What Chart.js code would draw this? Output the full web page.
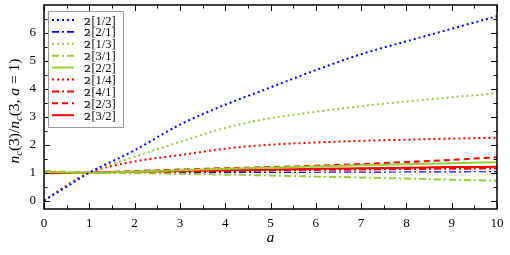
<!DOCTYPE html>
<html>
<head>
<meta charset="utf-8">
<script src="https://cdn.jsdelivr.net/npm/chart.js@4.4.1/dist/chart.umd.min.js"></script>
<style>
  html, body { margin: 0; padding: 0; background: #fff; }
  canvas { display: block; }
</style>
</head>
<body>
<canvas id="chart" width="510" height="255"></canvas>
<script>
// values (normalised so every curve is 1 at a = 1)
const aValues = [0, 0.5, 1, 2, 3, 4, 5, 6, 7, 8, 9, 10];

const pade12 = [0, 0.5, 1, 1.8, 2.72, 3.43, 4.05, 4.67, 5.24, 5.7, 6.15, 6.6];
const pade21 = [1, 1, 1, 1, 1.005, 1.01, 1.01, 1.015, 1.02, 1.025, 1.03, 1.035];
const pade13 = [0, 0.52, 1, 1.57, 2.1, 2.6, 2.95, 3.18, 3.38, 3.55, 3.7, 3.84];
const pade31 = [1.06, 1.03, 1, 0.98, 0.96, 0.93, 0.9, 0.86, 0.83, 0.79, 0.75, 0.71];
const pade22 = [1.03, 1.01, 1, 1.04, 1.09, 1.14, 1.18, 1.22, 1.27, 1.3, 1.34, 1.37];
const pade14 = [0, 0.55, 1, 1.4, 1.63, 1.86, 2.0, 2.08, 2.14, 2.18, 2.22, 2.25];
const pade41 = [1, 1, 1, 1.02, 1.04, 1.06, 1.08, 1.1, 1.11, 1.13, 1.14, 1.15];
const pade23 = [0.99, 0.99, 1, 1.06, 1.11, 1.16, 1.2, 1.25, 1.31, 1.38, 1.46, 1.55];
const pade32 = [0.98, 0.99, 1, 1.03, 1.06, 1.09, 1.11, 1.14, 1.16, 1.18, 1.2, 1.21];

const xTicks = [0, 1, 2, 3, 4, 5, 6, 7, 8, 9, 10];
const yTicks = [0, 1, 2, 3, 4, 5, 6];

const BLUE = '#0000ff', GREEN = '#9acd32', RED = '#ff0000';
const DOT = [2, 3], DASHDOT = [7, 3, 2, 3], DASH = [6, 4];
const SERIF = '"Liberation Serif", "DejaVu Serif", serif';

// legend label, values, colour, dash, width
const series = [
  ['𝟚[1/2]', pade12, BLUE, DOT, 2],
  ['𝟚[2/1]', pade21, BLUE, DASHDOT, 1.2],
  ['𝟚[1/3]', pade13, GREEN, DOT, 2],
  ['𝟚[3/1]', pade31, GREEN, DASHDOT, 2],
  ['𝟚[2/2]', pade22, GREEN, [], 2],
  ['𝟚[1/4]', pade14, RED, DOT, 2],
  ['𝟚[4/1]', pade41, RED, DASHDOT, 2],
  ['𝟚[2/3]', pade23, RED, DASH, 2],
  ['𝟚[3/2]', pade32, RED, [], 2]
];

const datasets = series.map(([label, vals, color, dash, w], i) => ({
  label,
  data: vals.map((v, k) => ({ x: aValues[k], y: v })),
  borderColor: color,
  borderDash: dash,
  borderWidth: w,
  pointRadius: 0,
  fill: false,
  cubicInterpolationMode: 'monotone',
  order: i === 1 ? 10 : 0   // 2[2/1] sits under the red curves
}));

// inward tick marks on all four sides + frame
const frameTicks = {
  id: 'frameTicks',
  afterDatasetsDraw(chart) {
    const { ctx, chartArea: ca, scales: { x, y } } = chart;
    ctx.save();
    ctx.strokeStyle = '#000';
    ctx.lineWidth = 1;
    ctx.beginPath();
    for (let v = 0; v <= 10; v += 0.5) {
      const px = Math.round(x.getPixelForValue(v)) + 0.5;
      const len = Number.isInteger(v) ? 6 : 3.5;
      ctx.moveTo(px, ca.bottom); ctx.lineTo(px, ca.bottom - len);
      ctx.moveTo(px, ca.top); ctx.lineTo(px, ca.top + len);
    }
    for (let v = 0; v <= 6.5; v += 0.5) {
      const py = Math.round(y.getPixelForValue(v)) + 0.5;
      const len = Number.isInteger(v) ? 6 : 3.5;
      ctx.moveTo(ca.left, py); ctx.lineTo(ca.left + len, py);
      ctx.moveTo(ca.right, py); ctx.lineTo(ca.right - len, py);
    }
    ctx.stroke();
    ctx.lineWidth = 1.5;
    ctx.strokeRect(ca.left, ca.top, ca.width, ca.height);
    ctx.restore();
  }
};

// boxed legend in the top-left corner
const boxLegend = {
  id: 'boxLegend',
  afterDraw(chart) {
    const { ctx, chartArea: ca } = chart;
    const left = ca.left + 4, top = ca.top + 6, w = 75, h = 116, row = 11.9;
    ctx.save();
    ctx.fillStyle = '#fff';
    ctx.fillRect(left, top, w, h);
    ctx.strokeStyle = '#999';
    ctx.lineWidth = 1;
    ctx.strokeRect(left + 0.5, top + 0.5, w, h);
    series.forEach(([label, , color, dash, lw], i) => {
      const cy = top + 9 + i * row;
      ctx.strokeStyle = color;
      ctx.lineWidth = Math.max(lw, 1.8);
      ctx.setLineDash(dash);
      ctx.beginPath();
      ctx.moveTo(left + 4, cy);
      ctx.lineTo(left + 26, cy);
      ctx.stroke();
      ctx.setLineDash([]);
      ctx.fillStyle = '#000';
      ctx.textBaseline = 'alphabetic';
      // double-struck two is a little smaller than the bracket text
      const head = label.slice(0, 2), rest = label.slice(2);
      ctx.font = '10px ' + SERIF;
      ctx.fillText(head, left + 36, cy + 4.5);
      const hw = ctx.measureText(head).width;
      ctx.font = '12.5px ' + SERIF;
      ctx.fillText(rest, left + 36 + hw + 0.5, cy + 4.5);
    });
    ctx.restore();
  }
};

// axis titles with subscripts
const axisTitles = {
  id: 'axisTitles',
  afterDraw(chart) {
    const { ctx, chartArea: ca } = chart;
    ctx.save();
    ctx.fillStyle = '#000';
    ctx.textBaseline = 'alphabetic';
    ctx.font = 'italic 15px ' + SERIF;
    ctx.textAlign = 'center';
    ctx.fillText('a', (ca.left + ca.right) / 2, 242);

    const big = 'italic 15.5px ' + SERIF, rom = '15.5px ' + SERIF, sub = 'italic 10.5px ' + SERIF;
    const parts = [
      ['n', big, 0], ['c', sub, 3], ['(3)/', rom, 0],
      ['n', big, 0], ['c', sub, 3], ['(3, ', rom, 0],
      ['a', big, 0], [' = 1)', rom, 0]
    ];
    let total = 0;
    parts.forEach(p => { ctx.font = p[1]; total += ctx.measureText(p[0]).width; });
    ctx.translate(19, (ca.top + ca.bottom) / 2 + 4);
    ctx.rotate(-Math.PI / 2);
    ctx.textAlign = 'left';
    let cx = -total / 2;
    parts.forEach(([t, f, dy]) => {
      ctx.font = f;
      ctx.fillText(t, cx, dy);
      cx += ctx.measureText(t).width;
    });
    ctx.restore();
  }
};

new Chart(document.getElementById('chart'), {
  type: 'line',
  data: { datasets },
  options: {
    responsive: false,
    animation: false,
    events: [],
    layout: { padding: { left: 0, top: 5, right: 13, bottom: 0 } },
    plugins: { legend: { display: false }, tooltip: { enabled: false } },
    scales: {
      x: {
        type: 'linear', min: 0, max: 10,
        afterBuildTicks: s => { s.ticks = xTicks.map(v => ({ value: v })); },
        afterFit: s => { s.height = 46; },
        grid: { display: false },
        border: { display: false },
        ticks: { color: '#000', padding: -1, maxRotation: 0, font: { family: SERIF, size: 13 } }
      },
      y: {
        type: 'linear', min: -0.3, max: 7,
        afterBuildTicks: s => { s.ticks = yTicks.map(v => ({ value: v })); },
        afterFit: s => { s.width = 44; s.paddingTop = 0; s.paddingBottom = 0; },
        grid: { display: false },
        border: { display: false },
        ticks: { color: '#000', padding: 0, font: { family: SERIF, size: 13 } }
      }
    }
  },
  plugins: [frameTicks, boxLegend, axisTitles]
});
</script>
</body>
</html>
